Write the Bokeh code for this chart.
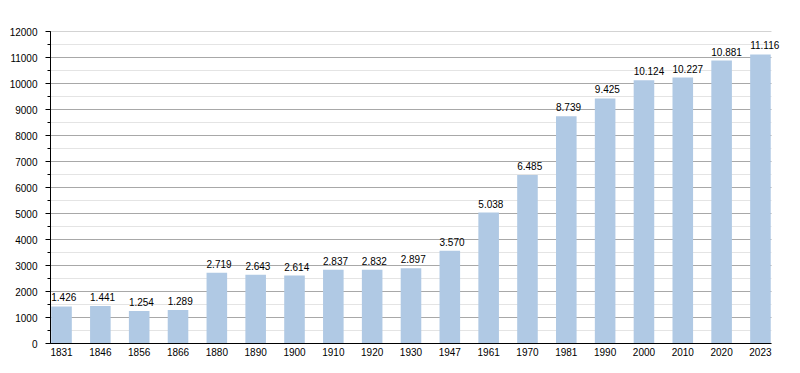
from bokeh.plotting import figure
from bokeh.models import ColumnDataSource, FixedTicker, Range1d, LabelSet
from bokeh.core.properties import value
from bokeh.transform import dodge
from bokeh.embed import file_html
from bokeh.resources import INLINE

years = ["1831", "1846", "1856", "1866", "1880", "1890", "1900", "1910", "1920", "1930",
         "1947", "1961", "1970", "1981", "1990", "2000", "2010", "2020", "2023"]
population = [1426, 1441, 1254, 1289, 2719, 2643, 2614, 2837, 2832, 2897,
              3570, 5038, 6485, 8739, 9425, 10124, 10227, 10881, 11116]
y_ticks = list(range(0, 12001, 1000))
y_minor = list(range(500, 12000, 1000))

def fmt(v):
    return f"{v:,}".replace(",", ".")

xs = list(range(len(years)))
src = ColumnDataSource(dict(x=xs, top=population, label=[fmt(v) for v in population]))

FONT = "Liberation Sans"
BAR_W = 0.53
X0 = -0.284
X1 = len(years) - 1 + 0.284
X_END = X1 + 0.49  # room for the last label outside the gridded area

p = figure(width=792, height=365, output_backend="svg", toolbar_location=None,
           x_range=Range1d(X0, X_END), y_range=Range1d(0, 12000),
           min_border_left=50, min_border_right=2, min_border_top=31, min_border_bottom=22)
p.outline_line_color = None
p.background_fill_color = "white"
p.border_fill_color = "white"

# gridlines limited to the data area
p.segment(x0=[X0] * len(y_minor), x1=[X1] * len(y_minor), y0=y_minor, y1=y_minor,
          line_color="#e4e4e4", line_width=1)
p.segment(x0=[X0] * len(y_ticks), x1=[X1] * len(y_ticks), y0=y_ticks, y1=y_ticks,
          line_color="#a8a8a8", line_width=1)

p.vbar(x="x", top="top", width=BAR_W, source=src, fill_color="#b0c9e4", line_color=None)

labels = LabelSet(x=dodge("x", -BAR_W / 2, range=p.x_range), y="top", text="label", source=src,
                  text_align="left", text_baseline="alphabetic", y_offset=5, x_offset=0,
                  text_font_size=value("10px"), text_font=value(FONT), text_color="black")
p.add_layout(labels)

# y axis
p.yaxis.ticker = FixedTicker(ticks=y_ticks, minor_ticks=list(range(0, 12001, 500)))
p.yaxis.major_label_text_font = FONT
p.yaxis.major_label_text_font_size = "10px"
p.yaxis.major_label_text_color = "black"
p.yaxis.axis_line_color = "black"
p.yaxis.major_tick_line_color = "black"
p.yaxis.minor_tick_line_color = "black"
p.yaxis.major_tick_out = 5
p.yaxis.major_tick_in = 0
p.yaxis.minor_tick_out = 3
p.yaxis.minor_tick_in = 0
p.yaxis.major_label_standoff = 8

# x axis
p.xaxis.ticker = FixedTicker(ticks=xs)
p.xaxis.major_label_overrides = {i: y for i, y in enumerate(years)}
p.xaxis.major_label_text_font = FONT
p.xaxis.major_label_text_font_size = "10px"
p.xaxis.major_label_text_color = "black"
p.xaxis.axis_line_color = "black"
p.xaxis.major_tick_line_color = None
p.xaxis.minor_tick_line_color = None
p.xaxis.major_tick_out = 0
p.xaxis.major_tick_in = 0
p.xaxis.major_label_standoff = 4
p.xaxis.bounds = (X0, X1)

p.xgrid.grid_line_color = None
p.ygrid.grid_line_color = None

open("out.html", "w").write(file_html(p, INLINE))
